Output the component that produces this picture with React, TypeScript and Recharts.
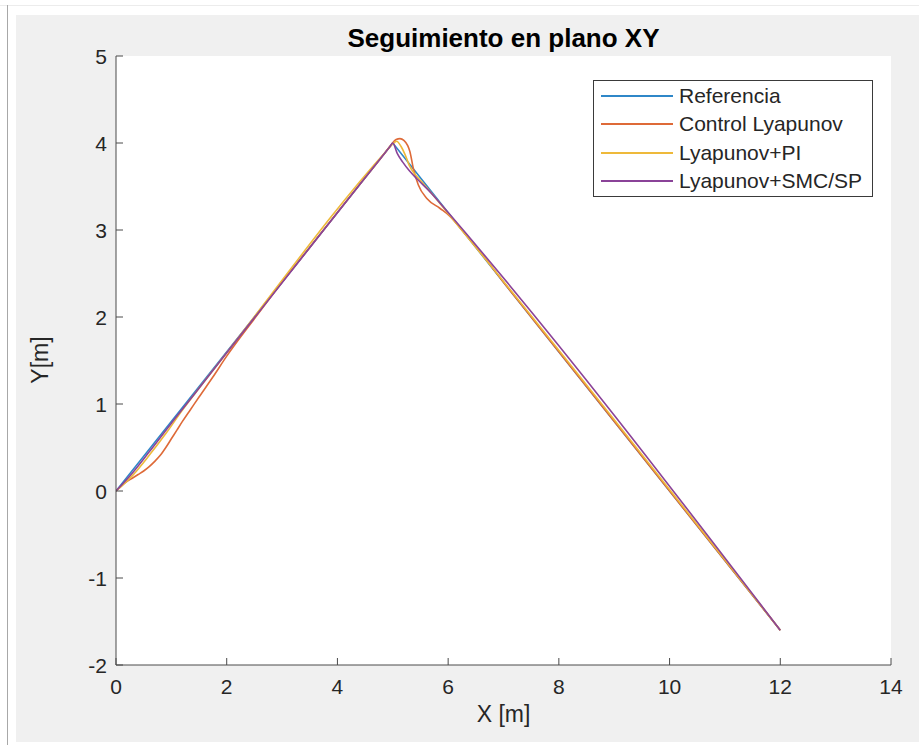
import React from 'react';
import { LineChart, Line, XAxis, YAxis, CartesianGrid, Legend } from 'recharts';

// Referencia (trayectoria deseada)
const refX = [0, 5, 12];
const refY = [0, 4, -1.6];

// Control Lyapunov
const lyapX = [0, 0.1, 0.2, 0.3, 0.4, 0.5, 0.6, 0.7, 0.8, 0.9, 1.0, 1.1, 1.2, 1.35, 1.5, 1.75, 2.0, 2.5, 3.0, 3.5, 4.0, 4.5, 4.85, 4.97, 5.06, 5.13, 5.2, 5.27, 5.31, 5.37, 5.46, 5.62, 5.85, 6.03, 6.3, 6.6, 7.0, 7.4, 8, 12];
const lyapY = [0, 0.06, 0.11, 0.15, 0.19, 0.23, 0.28, 0.34, 0.41, 0.5, 0.6, 0.7, 0.8, 0.94, 1.08, 1.31, 1.55, 1.98, 2.4, 2.8, 3.2, 3.6, 3.88, 3.98, 4.04, 4.05, 4.03, 3.97, 3.9, 3.71, 3.52, 3.36, 3.25, 3.16, 2.96, 2.73, 2.4, 2.08, 1.6, -1.6];

// Lyapunov + PI
const piX = [0, 0.3, 0.6, 0.9, 1.2, 1.5, 2, 4.9, 5.0, 5.07, 5.15, 5.22, 5.3, 5.4, 5.5, 5.65, 6, 12];
const piY = [0, 0.18, 0.41, 0.66, 0.93, 1.18, 1.59, 3.92, 3.99, 4.02, 3.96, 3.87, 3.74, 3.64, 3.57, 3.46, 3.19, -1.6];

// Lyapunov + SMC/SP
const smcX = [0, 0.3, 0.6, 1.0, 1.4, 2, 4.95, 5.0, 5.08, 5.18, 5.3, 5.45, 5.7, 6, 12];
const smcY = [0, 0.21, 0.45, 0.78, 1.1, 1.59, 3.96, 4.0, 3.88, 3.78, 3.68, 3.58, 3.42, 3.2, -1.6];

const xTicks = [0, 2, 4, 6, 8, 10, 12, 14];
const yTicks = [-2, -1, 0, 1, 2, 3, 4, 5];

const toPoints = (xs: number[], ys: number[]) => xs.map((x, i) => ({ x, y: ys[i] }));

const series = [
  { name: 'Referencia', color: '#2f87c8', data: toPoints(refX, refY), type: 'linear' },
  { name: 'Control Lyapunov', color: '#de6a38', data: toPoints(lyapX, lyapY), type: 'monotone' },
  { name: 'Lyapunov+PI', color: '#eeb93a', data: toPoints(piX, piY), type: 'monotone' },
  { name: 'Lyapunov+SMC/SP', color: '#8a4398', data: toPoints(smcX, smcY), type: 'monotone' },
];
const seriesOrder = series.map((s) => s.name);

const FONT = '"Liberation Sans", Arial, Helvetica, sans-serif';
const AXIS = '#4a4a4a';
const TEXT = '#262626';
const TICK_LEN = 7;

const BottomTick = (props: any) => {
  const { x, y, payload } = props;
  const axisY = y - 14;
  return (
    <g>
      <line x1={x} x2={x} y1={axisY} y2={axisY - TICK_LEN} stroke={AXIS} />
      <text x={x} y={y} dy="0.71em" textAnchor="middle" fill={TEXT} fontSize={21} fontFamily={FONT}>
        {payload.value}
      </text>
    </g>
  );
};

const LeftTick = (props: any) => {
  const { x, y, payload } = props;
  const axisX = x + 9;
  return (
    <g>
      <line x1={axisX} x2={axisX + TICK_LEN} y1={y} y2={y} stroke={AXIS} />
      <text x={x} y={y} dy="0.36em" textAnchor="end" fill={TEXT} fontSize={21} fontFamily={FONT}>
        {payload.value}
      </text>
    </g>
  );
};

const TopTick = (props: any) => {
  const { x, y } = props;
  const axisY = y + 2;
  return <line x1={x} x2={x} y1={axisY} y2={axisY + TICK_LEN} stroke={AXIS} />;
};

const RightTick = (props: any) => {
  const { x, y } = props;
  const axisX = x - 2;
  return <line x1={axisX} x2={axisX - TICK_LEN} y1={y} y2={y} stroke={AXIS} />;
};

const LegendBox = (props: any) => {
  const items = [...(props.payload || [])].sort(
    (a: any, b: any) => seriesOrder.indexOf(a.value) - seriesOrder.indexOf(b.value)
  );
  return (
    <div
      style={{
        width: 278,
        height: 114,
        border: '1px solid #3a3a3a',
        background: '#fff',
        fontFamily: FONT,
        fontSize: 21,
        color: TEXT,
        paddingTop: 1,
        boxSizing: 'content-box',
      }}
    >
      {items.map((entry: any) => (
        <div key={entry.value} style={{ display: 'flex', alignItems: 'center', height: 28.3 }}>
          <div style={{ width: 72, height: 2, background: entry.color, marginLeft: 7, marginRight: 6 }} />
          <span style={{ lineHeight: '28px' }}>{entry.value}</span>
        </div>
      ))}
    </div>
  );
};

export default function App() {
  return (
    <div style={{ position: 'absolute', left: 0, top: 0, width: 919, height: 745, background: '#fff', overflow: 'hidden' }}>
      <div style={{ position: 'absolute', left: 0, top: 5, width: 919, height: 1, background: '#ececec' }} />
      <div style={{ position: 'absolute', left: 7, top: 5, width: 1, height: 740, background: '#a8a8a8' }} />
      <div style={{ position: 'absolute', left: 16, top: 15, width: 903, height: 727, background: '#f0f0f0' }} />
      <div
        style={{
          position: 'absolute',
          left: 116,
          width: 775,
          top: 23,
          textAlign: 'center',
          fontFamily: FONT,
          fontWeight: 'bold',
          fontSize: 26,
          color: '#000',
        }}
      >
        Seguimiento en plano XY
      </div>
      <div
        style={{
          position: 'absolute',
          left: 116,
          width: 775,
          top: 701,
          textAlign: 'center',
          fontFamily: FONT,
          fontSize: 23,
          color: TEXT,
        }}
      >
        X [m]
      </div>
      <div
        style={{
          position: 'absolute',
          left: 40,
          top: 360,
          transform: 'translate(-50%, -50%) rotate(-90deg)',
          fontFamily: FONT,
          fontSize: 23,
          color: TEXT,
          whiteSpace: 'nowrap',
        }}
      >
        Y[m]
      </div>
      <div style={{ position: 'absolute', left: 0, top: 0 }}>
        <LineChart width={919} height={745} margin={{ top: 56, right: 28, left: 0, bottom: 0 }}>
          <CartesianGrid fill="#ffffff" horizontal={false} vertical={false} />
          <XAxis
            xAxisId="bottom"
            type="number"
            dataKey="x"
            domain={[0, 14]}
            ticks={xTicks}
            height={80}
            tickSize={0}
            tickMargin={14}
            tickLine={false}
            tick={<BottomTick />}
            axisLine={{ stroke: AXIS }}
            allowDataOverflow
          />
          <XAxis
            xAxisId="top"
            orientation="top"
            type="number"
            dataKey="x"
            domain={[0, 14]}
            ticks={xTicks}
            height={0}
            tickSize={0}
            tickMargin={2}
            tickLine={false}
            tick={<TopTick />}
            axisLine={{ stroke: AXIS }}
            allowDataOverflow
          />
          <YAxis
            yAxisId="left"
            type="number"
            domain={[-2, 5]}
            ticks={yTicks}
            width={116}
            tickSize={0}
            tickMargin={9}
            tickLine={false}
            tick={<LeftTick />}
            axisLine={{ stroke: AXIS }}
            allowDataOverflow
          />
          <YAxis
            yAxisId="right"
            orientation="right"
            type="number"
            domain={[-2, 5]}
            ticks={yTicks}
            width={0}
            tickSize={0}
            tickMargin={2}
            tickLine={false}
            tick={<RightTick />}
            axisLine={{ stroke: AXIS }}
            allowDataOverflow
          />
          <Legend
            layout="vertical"
            align="center"
            verticalAlign="middle"
            wrapperStyle={{ left: 593, top: 80, width: 280 }}
            content={<LegendBox />}
          />
          {series.map((s) => (
            <Line
              key={s.name}
              xAxisId="bottom"
              yAxisId="left"
              name={s.name}
              data={s.data}
              dataKey="y"
              type={s.type as any}
              stroke={s.color}
              strokeWidth={1.6}
              dot={false}
              activeDot={false}
              isAnimationActive={false}
            />
          ))}
        </LineChart>
      </div>
    </div>
  );
}
